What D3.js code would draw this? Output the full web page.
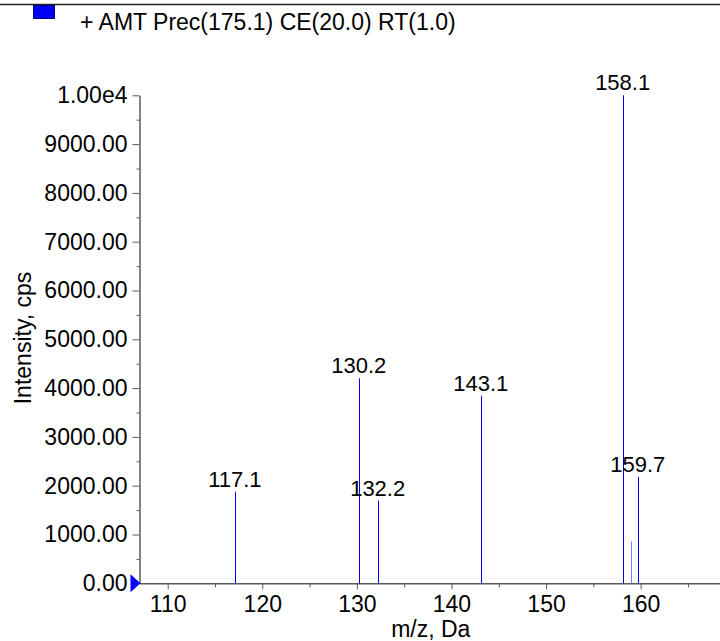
<!DOCTYPE html>
<html>
<head>
<meta charset="utf-8">
<script src="https://cdn.jsdelivr.net/npm/d3@7"></script>
<style>
  html, body { margin: 0; padding: 0; background: #fff; }
  svg { display: block; font-family: "Liberation Sans", Arial, sans-serif; }
</style>
</head>
<body>
<svg id="chart" width="720" height="641"></svg>
<script>
// ---- data ----
const legendLabel = "+ AMT Prec(175.1) CE(20.0) RT(1.0)";
const peakMz = [117.1, 130.2, 132.2, 143.1, 158.1, 159.0, 159.7];
const peakIntensity = [1877, 4200, 1693, 3844, 10000, 860, 2178];
const peakLabels = ["117.1", "130.2", "132.2", "143.1", "158.1", "", "159.7"];
const xTicks = [110, 120, 130, 140, 150, 160];
const xMinorTicks = [115, 125, 135, 145, 155, 165];
const yTicks = [0, 1000, 2000, 3000, 4000, 5000, 6000, 7000, 8000, 9000, 10000];
const yTickLabels = ["0.00", "1000.00", "2000.00", "3000.00", "4000.00", "5000.00", "6000.00", "7000.00", "8000.00", "9000.00", "1.00e4"];
const yMinorTicks = [500, 1500, 2500, 3500, 4500, 5500, 6500, 7500, 8500, 9500];
const xTitle = "m/z, Da";
const yTitle = "Intensity, cps";

(function () {
// ---- layout ----
const svg = d3.select("#chart");
const pLeft = 139.5, pRight = 720, pTop = 95.3, pBottom = 583.3;
const x = d3.scaleLinear().domain([107.02, 168.39]).range([pLeft, pRight]);
const y = d3.scaleLinear().domain([0, 10000]).range([pBottom, pTop]);
const fs = 23, fsPeak = 22;
const axisColor = "#5a5a5a";

// top border line
svg.append("line").attr("x1", 0).attr("x2", 720).attr("y1", 4.5).attr("y2", 4.5)
  .attr("stroke", "#222").attr("stroke-width", 1.6);

// legend
svg.append("rect").attr("x", 33.5).attr("y", 5.5).attr("width", 21).attr("height", 13)
  .attr("fill", "#0000ff").attr("stroke", "#000080").attr("stroke-width", 1);
svg.append("text").attr("x", 80).attr("y", 30).attr("font-size", fs).attr("fill", "#000")
  .text(legendLabel);

// x axis
const xAxis = svg.append("g").attr("transform", `translate(0,${pBottom})`)
  .call(d3.axisBottom(x).tickValues(xTicks).tickFormat(d3.format("d")).tickSize(6).tickSizeOuter(0));
xAxis.select(".domain").attr("stroke", axisColor).attr("stroke-width", 1.5);
xAxis.selectAll(".tick line").attr("stroke", axisColor);
xAxis.selectAll(".tick text").attr("font-size", fs).attr("font-family", "Liberation Sans, Arial, sans-serif")
  .attr("fill", "#000").attr("dy", "0").attr("y", 29);
const xMinor = svg.append("g").attr("transform", `translate(0,${pBottom})`)
  .call(d3.axisBottom(x).tickValues(xMinorTicks).tickFormat("").tickSize(4).tickSizeOuter(0));
xMinor.select(".domain").remove();
xMinor.selectAll(".tick line").attr("stroke", axisColor);

// y axis
const yAxis = svg.append("g").attr("transform", `translate(${pLeft},0)`)
  .call(d3.axisLeft(y).tickValues(yTicks).tickFormat((d, i) => yTickLabels[i]).tickSize(7).tickSizeOuter(0).tickPadding(5));
yAxis.select(".domain").attr("stroke", axisColor).attr("stroke-width", 1.5);
yAxis.selectAll(".tick line").attr("stroke", axisColor);
yAxis.selectAll(".tick text").attr("font-size", fs).attr("font-family", "Liberation Sans, Arial, sans-serif")
  .attr("fill", "#000");
const yMinor = svg.append("g").attr("transform", `translate(${pLeft},0)`)
  .call(d3.axisLeft(y).tickValues(yMinorTicks).tickFormat("").tickSize(3).tickSizeOuter(0));
yMinor.select(".domain").remove();
yMinor.selectAll(".tick line").attr("stroke", axisColor);

// blue marker triangle at zero
svg.append("path")
  .attr("d", `M${pLeft - 9},${y(0) - 9} L${pLeft + 1},${y(0)} L${pLeft - 9},${y(0) + 9} Z`)
  .attr("fill", "#0000ff");

// axis titles
svg.append("text").attr("x", (pLeft + pRight) / 2 + 1).attr("y", 637).attr("text-anchor", "middle")
  .attr("font-size", fs).attr("fill", "#000").text(xTitle);
svg.append("text").attr("transform", `translate(31,338) rotate(-90)`).attr("text-anchor", "middle")
  .attr("font-size", fs).attr("fill", "#000").text(yTitle);

// peaks
const peaks = peakMz.map((m, i) => ({ m, v: peakIntensity[i], label: peakLabels[i] }));
svg.append("g").selectAll("line").data(peaks).join("line")
  .attr("x1", d => Math.round(x(d.m)) + 0.5).attr("x2", d => Math.round(x(d.m)) + 0.5)
  .attr("y1", y(0)).attr("y2", d => y(d.v))
  .attr("stroke", d => d.label ? "#0000ff" : "#7a7aff").attr("stroke-width", 1);
svg.append("g").selectAll("text").data(peaks.filter(d => d.label)).join("text")
  .attr("x", d => x(d.m)).attr("y", d => y(d.v) - 5).attr("text-anchor", "middle")
  .attr("font-size", fsPeak).attr("fill", "#000").text(d => d.label);
})();
</script>
</body>
</html>
